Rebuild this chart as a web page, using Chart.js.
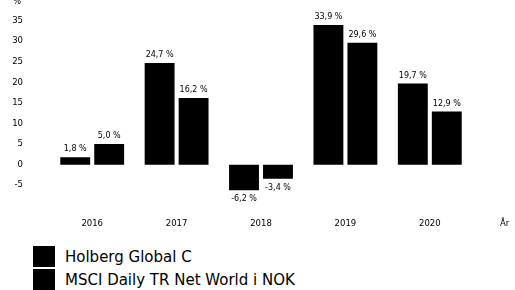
<!DOCTYPE html>
<html lang="no">
<head>
  <meta charset="UTF-8">
  <title>Årlig avkastning</title>
  <script src="https://cdn.jsdelivr.net/npm/chart.js"></script>
  <style>
    html, body { margin: 0; padding: 0; background: #fff; }
    body { width: 515px; height: 290px; overflow: hidden; font-family: "DejaVu Sans", sans-serif; }
    .chart-box { position: relative; width: 515px; height: 242px; }
    .legend { position: absolute; left: 33px; top: 245px; }
    .legend-item { display: flex; align-items: center; height: 23px; font-size: 15px; color: #000; }
    .legend-item span.box { display: inline-block; width: 22px; height: 21px; background: #000; margin-right: 10px; }
  </style>
</head>
<body>
  <div class="chart-box">
    <canvas id="returnsChart"></canvas>
  </div>
  <div class="legend" id="legend"></div>

  <script>
    // Data
    const years = ['2016', '2017', '2018', '2019', '2020'];
    const seriesNames = ['Holberg Global C', 'MSCI Daily TR Net World i NOK'];
    const holbergValues = [1.8, 24.7, -6.2, 33.9, 19.7];
    const msciValues = [5.0, 16.2, -3.4, 29.6, 12.9];
    const yTicks = [-5, 0, 5, 10, 15, 20, 25, 30, 35];

    // Decimal comma, e.g. "24,7 %"
    const fmt = v => v.toFixed(1).replace('.', ',') + ' %';

    // Value labels above/below the bars, plus the "%" and "År" unit labels
    const labelPlugin = {
      id: 'valueLabels',
      afterDatasetsDraw(chart) {
        const ctx = chart.ctx;
        ctx.save();
        ctx.fillStyle = '#000';
        ctx.font = '8px "DejaVu Sans"';
        ctx.textAlign = 'center';
        chart.data.datasets.forEach((ds, i) => {
          const meta = chart.getDatasetMeta(i);
          meta.data.forEach((bar, j) => {
            const v = ds.data[j];
            if (v >= 0) {
              ctx.textBaseline = 'bottom';
              ctx.fillText(fmt(v), bar.x, bar.y - 4);
            } else {
              ctx.textBaseline = 'top';
              ctx.fillText(fmt(v), bar.x, bar.y + 5);
            }
          });
        });
        ctx.font = '8.5px "DejaVu Sans"';
        ctx.textAlign = 'right';
        ctx.textBaseline = 'middle';
        ctx.fillText('%', 21, 2);
        ctx.textAlign = 'left';
        ctx.fillText('År', 500, 224);
        ctx.restore();
      }
    };

    const ctx = document.getElementById('returnsChart').getContext('2d');
    const returnsChart = new Chart(ctx, {
      type: 'bar',
      data: {
        labels: years,
        datasets: [
          { label: seriesNames[0], data: holbergValues, backgroundColor: '#000' },
          { label: seriesNames[1], data: msciValues, backgroundColor: '#000' }
        ]
      },
      options: {
        responsive: true,
        maintainAspectRatio: false,
        animation: false,
        layout: { padding: { left: 0, right: 43, top: 0, bottom: 0 } },
        categoryPercentage: 0.805,
        barPercentage: 0.88,
        plugins: {
          legend: { display: false },
          tooltip: { enabled: false }
        },
        scales: {
          x: {
            grid: { display: false, drawTicks: false },
            border: { display: false },
            ticks: { color: '#000', font: { family: 'DejaVu Sans', size: 8.5 }, padding: 13 }
          },
          y: {
            min: -10,
            max: 40,
            grid: { display: false, drawTicks: false },
            border: { display: false },
            afterBuildTicks: scale => { scale.ticks = yTicks.map(v => ({ value: v })); },
            ticks: { color: '#000', font: { family: 'DejaVu Sans', size: 8.5 }, padding: 27 },
            afterFit: scale => {
              // fixed axis width, and no extra top/bottom padding from the tick padding
              scale.width = 50;
              scale.paddingTop = 0;
              scale.paddingBottom = 0;
            }
          }
        }
      },
      plugins: [labelPlugin]
    });

    // Stacked legend below the chart
    document.getElementById('legend').innerHTML = seriesNames
      .map(name => `<div class="legend-item"><span class="box"></span>${name}</div>`)
      .join('');
  </script>
</body>
</html>
